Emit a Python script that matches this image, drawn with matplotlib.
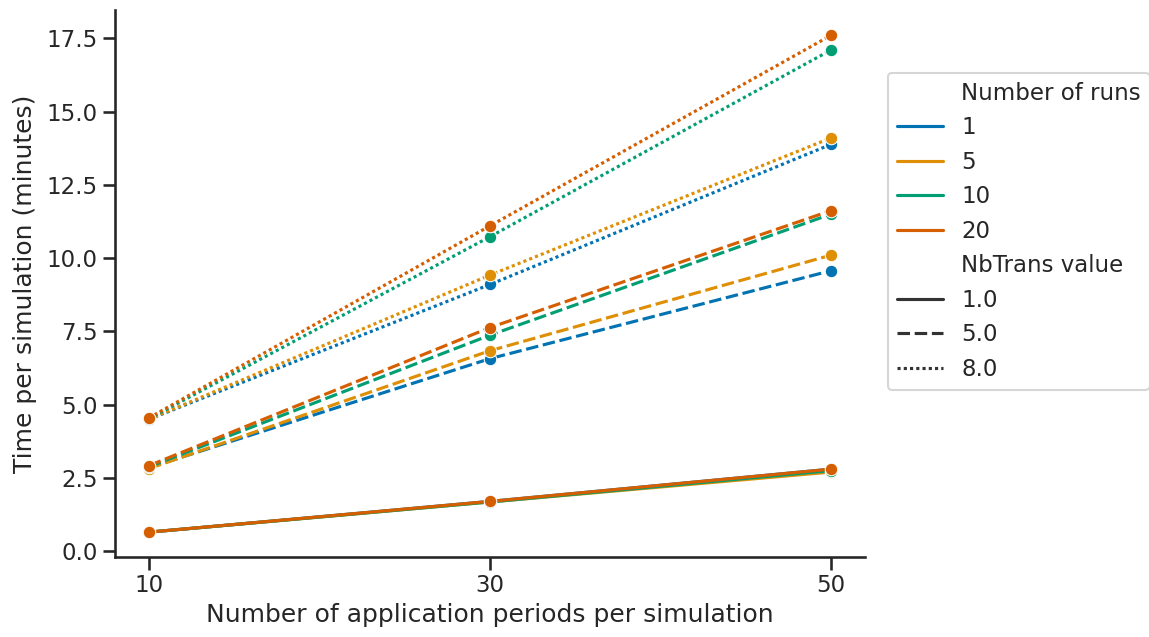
import matplotlib
matplotlib.use("Agg")
import matplotlib.pyplot as plt
from matplotlib.lines import Line2D
import seaborn as sns
import pandas as pd

periods = [10, 30, 50]
runs = ["1", "5", "10", "20"]
nbtrans = ["1.0", "5.0", "8.0"]

# time per simulation (minutes) for each (runs, nbtrans) across periods
t_1_10 = [0.65, 1.70, 2.80]
t_5_10 = [0.65, 1.68, 2.70]
t_10_10 = [0.65, 1.68, 2.75]
t_20_10 = [0.65, 1.70, 2.80]
t_1_50 = [2.85, 6.57, 9.57]
t_5_50 = [2.82, 6.84, 10.10]
t_10_50 = [2.88, 7.37, 11.50]
t_20_50 = [2.92, 7.63, 11.62]
t_1_80 = [4.50, 9.10, 13.88]
t_5_80 = [4.50, 9.42, 14.10]
t_10_80 = [4.52, 10.73, 17.10]
t_20_80 = [4.55, 11.10, 17.60]

series = {
    ("1", "1.0"): t_1_10, ("5", "1.0"): t_5_10, ("10", "1.0"): t_10_10, ("20", "1.0"): t_20_10,
    ("1", "5.0"): t_1_50, ("5", "5.0"): t_5_50, ("10", "5.0"): t_10_50, ("20", "5.0"): t_20_50,
    ("1", "8.0"): t_1_80, ("5", "8.0"): t_5_80, ("10", "8.0"): t_10_80, ("20", "8.0"): t_20_80,
}

rows = []
for (r, nb), vals in series.items():
    for p, v in zip(periods, vals):
        rows.append({"periods": p, "runs": r, "nbtrans": nb, "time": v})
df = pd.DataFrame(rows)

sns.set_theme(style="ticks", context="talk")
plt.rcParams['font.family'] = ['DejaVu Sans']

fig = plt.figure(figsize=(11.49, 6.37), dpi=100)
ax = fig.add_axes([0.100, 0.1256, 0.653, 0.858])

palette = sns.color_palette("colorblind")[:4]
dash_map = {"1.0": "", "5.0": (4, 1.5), "8.0": (1, 1)}
sns.lineplot(data=df, x="periods", y="time", hue="runs", style="nbtrans",
             hue_order=runs, style_order=nbtrans, palette=palette,
             dashes=dash_map, marker="o", markersize=9, markeredgecolor="white",
             ax=ax, legend=False)

ax.set_xticks(periods)
ax.set_xlabel("Number of application periods per simulation")
ax.set_ylabel("Time per simulation (minutes)", labelpad=7)
sns.despine(ax=ax)

handles = [Line2D([], [], color="none")]
labels = ["Number of runs"]
for c, r in zip(palette, runs):
    handles.append(Line2D([], [], color=c, lw=2.25))
    labels.append(r)
handles.append(Line2D([], [], color="none"))
labels.append("NbTrans value")
for nb in nbtrans:
    h = Line2D([], [], color="#333333", lw=2.25)
    if dash_map[nb]:
        h.set_dashes(dash_map[nb])
    handles.append(h)
    labels.append(nb)
ax.legend(handles, labels, loc="upper left", bbox_to_anchor=(1.015, 0.907), frameon=True)

fig.savefig("out.png", dpi=100)
